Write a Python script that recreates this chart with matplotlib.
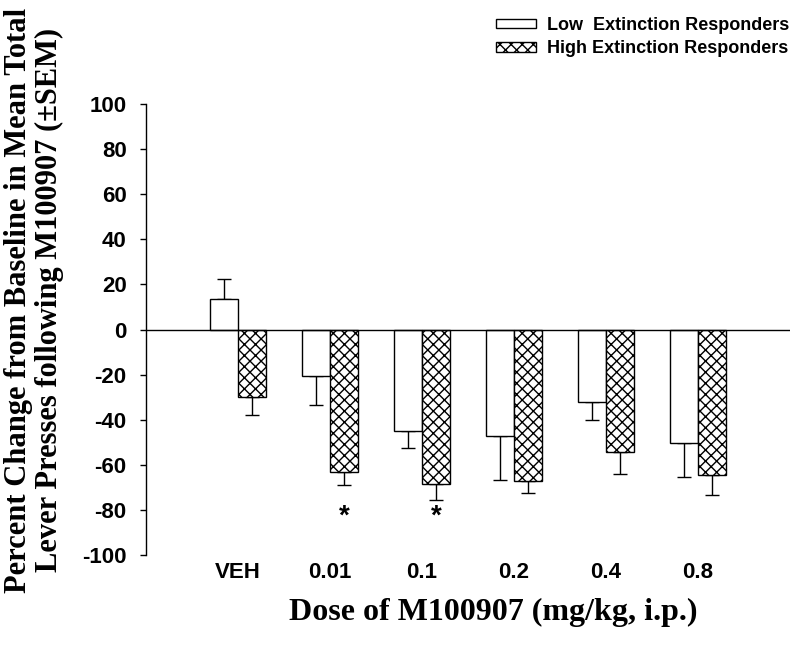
import matplotlib
matplotlib.use("Agg")
import matplotlib.pyplot as plt
import numpy as np

plt.rcParams['hatch.linewidth'] = 1.0

categories = ["VEH", "0.01", "0.1", "0.2", "0.4", "0.8"]
low_mean = [13.6, -20.7, -44.9, -47.4, -32.1, -50.2]
low_sem = [9.0, 13.0, 7.7, 19.4, 8.2, 15.4]
high_mean = [-30.1, -63.4, -68.7, -67.0, -54.4, -64.6]
high_sem = [8.0, 5.6, 7.1, 5.6, 9.9, 8.7]
sig_groups = [1, 2]
sig_y = -83
yticks = [-100, -80, -60, -40, -20, 0, 20, 40, 60, 80, 100]
series_names = ["Low  Extinction Responders", "High Extinction Responders"]

sans = "Liberation Sans"
serif = "Liberation Serif"

fig = plt.figure(figsize=(8, 6.5), dpi=100)
ax = fig.add_axes([146/800, 1-555/650, (790-146)/800, (555-104)/650])

x = np.arange(len(categories))
w = 0.30

def one_sided(means, sems):
    lo = [s if m < 0 else 0 for m, s in zip(means, sems)]
    hi = [s if m >= 0 else 0 for m, s in zip(means, sems)]
    return [lo, hi]

b1 = ax.bar(x - w/2, low_mean, w, color="white", edgecolor="black", linewidth=1.0,
            label=series_names[0], zorder=2)
b2 = ax.bar(x + w/2, high_mean, w, color="white", edgecolor="black", linewidth=1.0,
            hatch="xxx", label=series_names[1], zorder=2)
ax.errorbar(x - w/2, low_mean, yerr=one_sided(low_mean, low_sem), fmt="none",
            ecolor="black", elinewidth=1.0, capsize=4.7, capthick=1.0, zorder=1)
ax.errorbar(x + w/2, high_mean, yerr=one_sided(high_mean, high_sem), fmt="none",
            ecolor="black", elinewidth=1.0, capsize=4.7, capthick=1.0, zorder=1)

ax.axhline(0, color="black", linewidth=1.0, zorder=3)

for g in sig_groups:
    ax.text(x[g] + w/2, sig_y, "*", ha="center", va="center", fontsize=20,
            fontweight="bold", family=sans)

ax.set_xlim(-1, 6)
ax.set_ylim(-100, 100)
ax.set_yticks(yticks)
ax.set_yticklabels([str(v) for v in yticks], fontsize=16, fontweight="bold", family=sans)
ax.set_xticks(x)
ax.set_xticklabels(categories, fontsize=16, fontweight="bold", family=sans)
ax.tick_params(axis="x", length=0, pad=5)
ax.tick_params(axis="y", length=4, width=1, direction="out", pad=10)
for s in ["top", "right", "bottom"]:
    ax.spines[s].set_visible(False)
ax.spines["left"].set_linewidth(1.0)

fig.text(493/800, 1-612/650, "Dose of M100907 (mg/kg, i.p.)", ha="center", va="center",
         fontsize=23, fontweight="bold", family=serif)
fig.text(34/800, 1-300/650,
         "Percent Change from Baseline in Mean Total\nLever Presses following M100907 (±SEM)",
         ha="center", va="center", rotation=90, fontsize=22, fontweight="bold",
         family=serif, linespacing=1.08)

leg = fig.legend(handles=[b1, b2], labels=series_names, loc="upper right",
                 bbox_to_anchor=(800/800, 1-6/650), frameon=False,
                 prop={"family": sans, "weight": "bold", "size": 13},
                 handlelength=2.2, handleheight=0.45, handletextpad=0.6, labelspacing=0.35,
                 borderaxespad=0.2)

fig.savefig("out.png", dpi=100)
